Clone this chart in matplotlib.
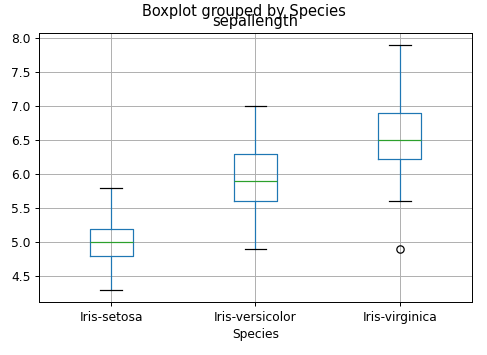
import matplotlib
matplotlib.use("Agg")
import matplotlib.pyplot as plt

species = ["Iris-setosa", "Iris-versicolor", "Iris-virginica"]
whislo = [4.3, 4.9, 5.6]
q1 = [4.8, 5.6, 6.225]
med = [5.0, 5.9, 6.5]
q3 = [5.2, 6.3, 6.9]
whishi = [5.8, 7.0, 7.9]
fliers = [[], [], [4.9]]

stats = []
for i, name in enumerate(species):
    stats.append({
        "label": name,
        "whislo": whislo[i],
        "q1": q1[i],
        "med": med[i],
        "q3": q3[i],
        "whishi": whishi[i],
        "fliers": fliers[i],
    })

DPI = 88
fig = plt.figure(figsize=(487 / DPI, 355 / DPI), dpi=DPI)
ax = fig.add_axes([39 / 487, 1 - 302 / 355, 433 / 487, 269 / 355])

ax.bxp(
    stats,
    positions=[1, 2, 3],
    widths=0.3,
    boxprops=dict(color="#1f77b4"),
    whiskerprops=dict(color="#1f77b4"),
    medianprops=dict(color="#2ca02c"),
    capprops=dict(color="black"),
    flierprops=dict(marker="o", markerfacecolor="none", markeredgecolor="black"),
)
ax.set_xlim(0.5, 3.5)
ax.set_ylim(4.12, 8.08)
ax.grid(True, color="#b0b0b0", linewidth=0.8)
ax.set_axisbelow(True)
ax.set_title("sepallength", fontsize=12, pad=6)
ax.set_xlabel("Species")
# the two titles overlap in the original pandas output as well
fig.suptitle("Boxplot grouped by Species", y=0.99, fontsize=12)

fig.savefig("out.png", dpi=DPI)
